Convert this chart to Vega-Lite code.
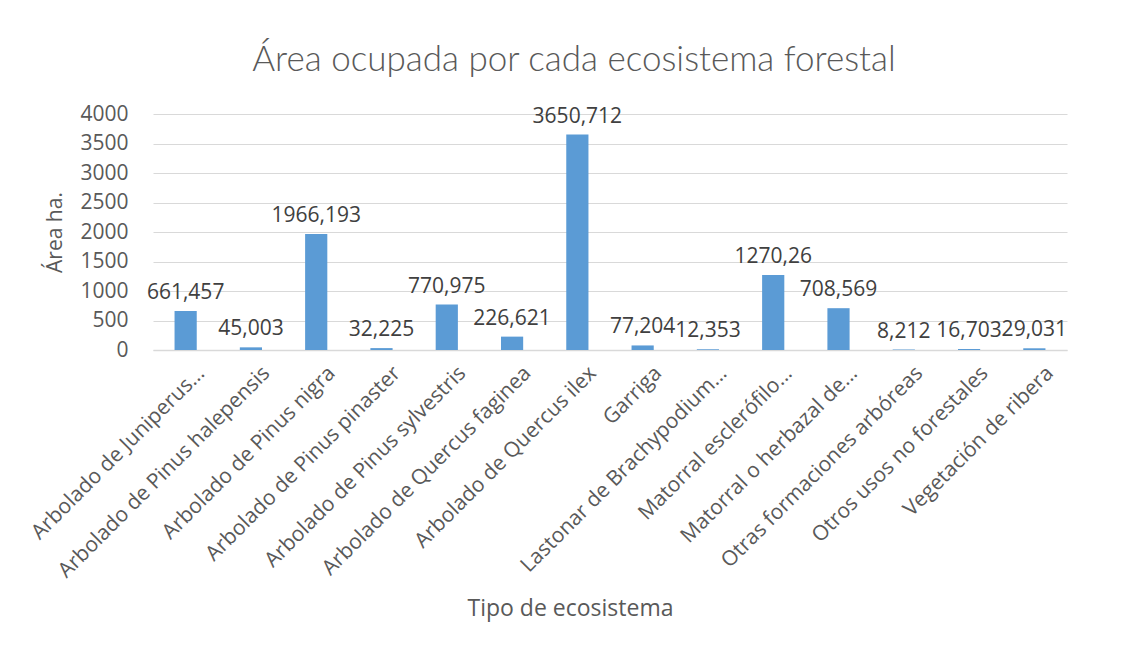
{
  "$schema": "https://vega.github.io/schema/vega-lite/v6.json",
  "width": 914,
  "height": 236,
  "autosize": {"type": "none"},
  "padding": {"left": 153, "top": 114, "right": 63, "bottom": 303},
  "background": "white",
  "config": {
    "view": {"stroke": null},
    "locale": {"number": {"decimal": ",", "thousands": ".", "grouping": [3], "currency": ["", " €"]}},
    "font": "Open Sans"
  },
  "title": {
    "text": "Área ocupada por cada ecosistema forestal",
    "font": "Lato",
    "fontSize": 35,
    "fontWeight": 300,
    "color": "#595959",
    "anchor": "middle",
    "frame": "group",
    "dx": -36,
    "offset": 25
  },
  "data": {
    "values": [
      {"tipo": "Arbolado de Juniperus...", "area": 661.457},
      {"tipo": "Arbolado de Pinus halepensis", "area": 45.003},
      {"tipo": "Arbolado de Pinus nigra", "area": 1966.193},
      {"tipo": "Arbolado de Pinus pinaster", "area": 32.225},
      {"tipo": "Arbolado de Pinus sylvestris", "area": 770.975},
      {"tipo": "Arbolado de Quercus faginea", "area": 226.621},
      {"tipo": "Arbolado de Quercus ilex", "area": 3650.712},
      {"tipo": "Garriga", "area": 77.204},
      {"tipo": "Lastonar de Brachypodium...", "area": 12.353},
      {"tipo": "Matorral esclerófilo...", "area": 1270.26},
      {"tipo": "Matorral o herbazal de...", "area": 708.569},
      {"tipo": "Otras formaciones arbóreas", "area": 8.212},
      {"tipo": "Otros usos no forestales", "area": 16.703},
      {"tipo": "Vegetación de ribera", "area": 29.031}
    ]
  },
  "encoding": {
    "x": {
      "field": "tipo",
      "type": "nominal",
      "sort": null,
      "scale": {"paddingInner": 0.66, "paddingOuter": 0.33},
      "axis": {
        "title": "Tipo de ecosistema",
        "titleFont": "Open Sans",
        "titleFontSize": 23,
        "titleFontWeight": "normal",
        "titleColor": "#595959",
        "titleX": 417,
        "titleY": 258,
        "titleBaseline": "middle",
        "labelAngle": -45,
        "labelAlign": "right",
        "labelBaseline": "top",
        "labelFontSize": 21,
        "labelColor": "#595959",
        "labelPadding": 12,
        "labelOffset": 8,
        "labelLimit": 400,
        "ticks": false,
        "tickSize": 0,
        "domainColor": "#d9d9d9",
        "domainWidth": 1.5
      }
    },
    "y": {
      "field": "area",
      "type": "quantitative",
      "scale": {"domain": [0, 4000]},
      "axis": {
        "title": "Área ha.",
        "titleFont": "Open Sans",
        "titleFontSize": 21,
        "titleFontWeight": "normal",
        "titleColor": "#595959",
        "titleX": -98,
        "titleY": 118,
        "titleAlign": "center",
        "titleBaseline": "middle",
        "values": [0, 500, 1000, 1500, 2000, 2500, 3000, 3500, 4000],
        "format": "d",
        "labelFontSize": 21,
        "labelColor": "#595959",
        "labelPadding": 25,
        "ticks": false,
        "tickSize": 0,
        "domain": false,
        "gridColor": "#d9d9d9",
        "gridWidth": 1.2
      }
    }
  },
  "layer": [
    {"mark": {"type": "bar", "color": "#5b9bd5"}},
    {
      "mark": {"type": "text", "dy": -18, "baseline": "middle", "fontSize": 21, "color": "#404040"},
      "encoding": {"text": {"field": "area", "type": "quantitative", "format": "~f"}}
    }
  ]
}
